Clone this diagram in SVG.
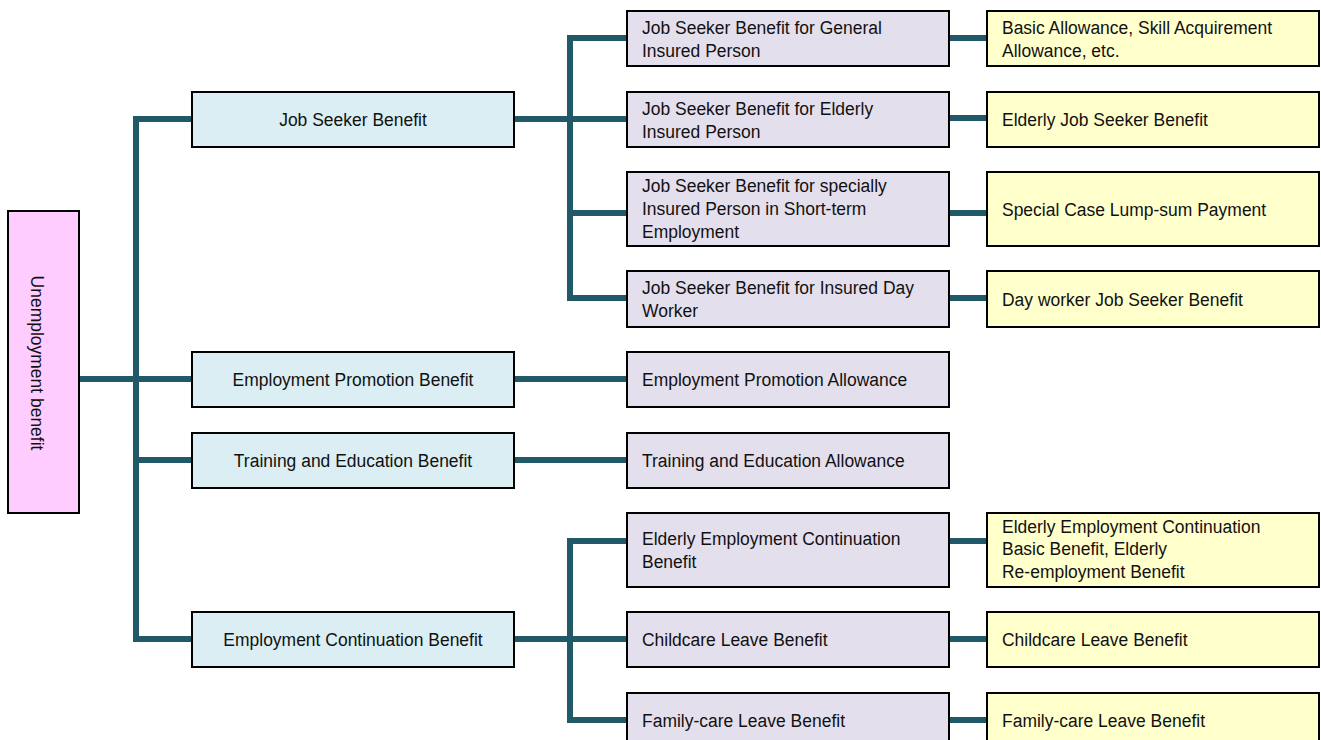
<svg xmlns="http://www.w3.org/2000/svg" width="1321" height="740" viewBox="0 0 1321 740">
  <style>
    .box { stroke: #000; stroke-width: 2; }
    .root { fill: #FFCCFF; }
    .l1 { fill: #DAEEF3; }
    .l2 { fill: #E4DFEC; }
    .l3 { fill: #FFFFCC; }
    .t { font-family: "Liberation Sans", Arial, sans-serif; font-size: 19px; fill: #111; }
    .c { text-anchor: middle; }
    .wire { fill: none; stroke: #215968; stroke-width: 6; stroke-linejoin: miter; stroke-linecap: butt; }
  </style>
  <rect width="1321" height="740" fill="#fff"/>

  <!-- tree connectors -->
  <g id="connectors" class="wire">
    <path d="M79,379 H192"/>
    <path d="M192,119 H136 V639 H192"/>
    <path d="M136,460 H192"/>
    <path d="M514,119 H627"/>
    <path d="M627,38 H570 V298 H627"/>
    <path d="M570,213 H627"/>
    <path d="M514,379 H627"/>
    <path d="M514,460 H627"/>
    <path d="M514,639 H627"/>
    <path d="M627,541 H570 V720 H627"/>
    <path d="M949,38 H987"/>
    <path d="M949,118 H987"/>
    <path d="M949,213 H987"/>
    <path d="M949,298 H987"/>
    <path d="M949,541 H987"/>
    <path d="M949,639 H987"/>
    <path d="M949,720 H987"/>
  </g>

  <!-- root -->
  <g id="unemployment-benefit">
    <rect class="box root" x="8" y="211" width="71" height="302"/>
    <text class="t c" transform="translate(31 363) rotate(90) scale(0.92 1)" x="0" y="0">Unemployment benefit</text>
  </g>

  <!-- first level -->
  <g id="job-seeker-benefit">
    <rect class="box l1" x="192" y="92" width="322" height="55"/>
    <text class="t c" transform="translate(353 0) scale(0.92 1)" x="0" y="126.5">Job Seeker Benefit</text>
  </g>
  <g id="employment-promotion-benefit">
    <rect class="box l1" x="192" y="352" width="322" height="55"/>
    <text class="t c" transform="translate(353 0) scale(0.92 1)" x="0" y="386.5">Employment Promotion Benefit</text>
  </g>
  <g id="training-education-benefit">
    <rect class="box l1" x="192" y="433" width="322" height="55"/>
    <text class="t c" transform="translate(353 0) scale(0.92 1)" x="0" y="467.5">Training and Education Benefit</text>
  </g>
  <g id="employment-continuation-benefit">
    <rect class="box l1" x="192" y="612" width="322" height="55"/>
    <text class="t c" transform="translate(353 0) scale(0.92 1)" x="0" y="646.5">Employment Continuation Benefit</text>
  </g>

  <!-- second level -->
  <g id="jsb-general">
    <rect class="box l2" x="627" y="11" width="322" height="55"/>
    <text class="t" transform="translate(642 0) scale(0.92 1)"><tspan x="0" y="34">Job Seeker Benefit for General</tspan><tspan x="0" y="57">Insured Person</tspan></text>
  </g>
  <g id="jsb-elderly">
    <rect class="box l2" x="627" y="92" width="322" height="55"/>
    <text class="t" transform="translate(642 0) scale(0.92 1)"><tspan x="0" y="115">Job Seeker Benefit for Elderly</tspan><tspan x="0" y="138">Insured Person</tspan></text>
  </g>
  <g id="jsb-short-term">
    <rect class="box l2" x="627" y="172" width="322" height="74"/>
    <text class="t" transform="translate(642 0) scale(0.92 1)"><tspan x="0" y="192.5">Job Seeker Benefit for specially</tspan><tspan x="0" y="215.5">Insured Person in Short-term</tspan><tspan x="0" y="238.5">Employment</tspan></text>
  </g>
  <g id="jsb-day-worker">
    <rect class="box l2" x="627" y="271" width="322" height="56"/>
    <text class="t" transform="translate(642 0) scale(0.92 1)"><tspan x="0" y="294">Job Seeker Benefit for Insured Day</tspan><tspan x="0" y="317">Worker</tspan></text>
  </g>
  <g id="employment-promotion-allowance">
    <rect class="box l2" x="627" y="352" width="322" height="55"/>
    <text class="t" transform="translate(642 0) scale(0.92 1)" x="0" y="386.5">Employment Promotion Allowance</text>
  </g>
  <g id="training-education-allowance">
    <rect class="box l2" x="627" y="433" width="322" height="55"/>
    <text class="t" transform="translate(642 0) scale(0.92 1)" x="0" y="467.5">Training and Education Allowance</text>
  </g>
  <g id="elderly-employment-continuation">
    <rect class="box l2" x="627" y="513" width="322" height="74"/>
    <text class="t" transform="translate(642 0) scale(0.92 1)"><tspan x="0" y="545.5">Elderly Employment Continuation</tspan><tspan x="0" y="568.5">Benefit</tspan></text>
  </g>
  <g id="childcare-leave">
    <rect class="box l2" x="627" y="612" width="322" height="55"/>
    <text class="t" transform="translate(642 0) scale(0.92 1)" x="0" y="646.5">Childcare Leave Benefit</text>
  </g>
  <g id="family-care-leave">
    <rect class="box l2" x="627" y="693" width="322" height="55"/>
    <text class="t" transform="translate(642 0) scale(0.92 1)" x="0" y="727">Family-care Leave Benefit</text>
  </g>

  <!-- third level -->
  <g id="basic-allowance">
    <rect class="box l3" x="987" y="11" width="332" height="55"/>
    <text class="t" transform="translate(1002 0) scale(0.92 1)"><tspan x="0" y="34">Basic Allowance, Skill Acquirement</tspan><tspan x="0" y="57">Allowance, etc.</tspan></text>
  </g>
  <g id="elderly-job-seeker">
    <rect class="box l3" x="987" y="92" width="332" height="55"/>
    <text class="t" transform="translate(1002 0) scale(0.92 1)" x="0" y="126.5">Elderly Job Seeker Benefit</text>
  </g>
  <g id="special-lump-sum">
    <rect class="box l3" x="987" y="172" width="332" height="74"/>
    <text class="t" transform="translate(1002 0) scale(0.92 1)" x="0" y="216">Special Case Lump-sum Payment</text>
  </g>
  <g id="day-worker-job-seeker">
    <rect class="box l3" x="987" y="271" width="332" height="56"/>
    <text class="t" transform="translate(1002 0) scale(0.92 1)" x="0" y="306">Day worker Job Seeker Benefit</text>
  </g>
  <g id="elderly-continuation-basic">
    <rect class="box l3" x="987" y="513" width="332" height="74"/>
    <text class="t" transform="translate(1002 0) scale(0.92 1)"><tspan x="0" y="533">Elderly Employment Continuation</tspan><tspan x="0" y="555.5">Basic Benefit, Elderly</tspan><tspan x="0" y="578">Re-employment Benefit</tspan></text>
  </g>
  <g id="childcare-leave-benefit">
    <rect class="box l3" x="987" y="612" width="332" height="55"/>
    <text class="t" transform="translate(1002 0) scale(0.92 1)" x="0" y="646.5">Childcare Leave Benefit</text>
  </g>
  <g id="family-care-leave-benefit">
    <rect class="box l3" x="987" y="693" width="332" height="55"/>
    <text class="t" transform="translate(1002 0) scale(0.92 1)" x="0" y="727">Family-care Leave Benefit</text>
  </g>
</svg>
